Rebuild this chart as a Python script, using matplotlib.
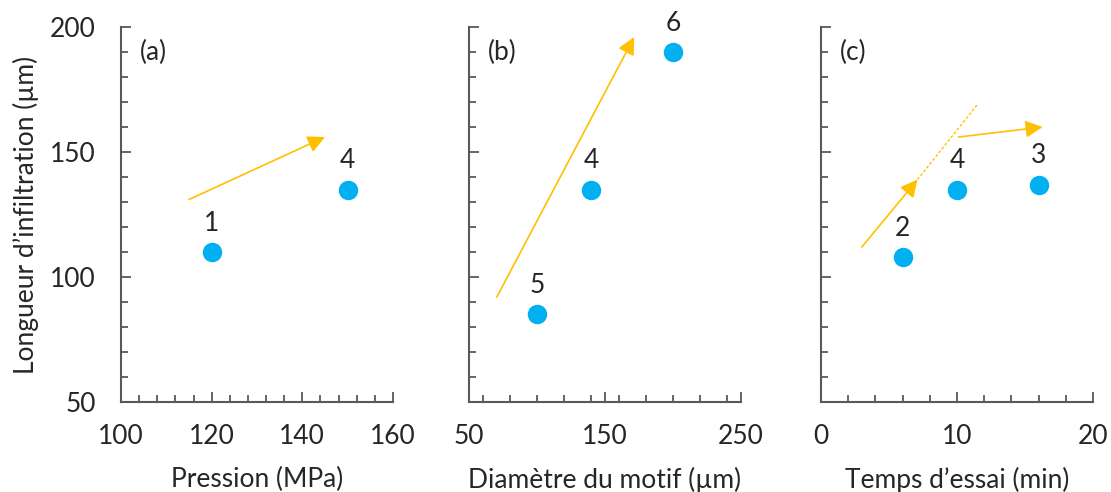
import matplotlib
matplotlib.use('Agg')
import matplotlib.pyplot as plt
from matplotlib.ticker import MultipleLocator, FixedLocator

plt.rcParams['font.family'] = ['Lato', 'DejaVu Sans']

# Données
press_x = [120, 150]
press_y = [110, 135]
press_lbl = ['1', '4']

diam_x = [100, 140, 200]
diam_y = [85, 135, 190]
diam_lbl = ['5', '4', '6']

temps_x = [6, 10, 16]
temps_y = [108, 135, 137]
temps_lbl = ['2', '4', '3']

BLEU = '#00B0F0'
ORANGE = '#FFC000'
GRIS = '#595959'
TEXTE = '#262626'
FS = 19

fig = plt.figure(figsize=(11.11, 4.92), dpi=100)
positions = [0.1089, 0.4221, 0.739]
axes = [fig.add_axes([l, 0.183, 0.2448, 0.762]) for l in positions]


def configurer(ax, xlim, xticks, xmin, xlabel, lettre):
    ax.set_xlim(*xlim)
    ax.set_ylim(50, 200)
    ax.xaxis.set_major_locator(FixedLocator(xticks))
    ax.xaxis.set_minor_locator(MultipleLocator(xmin))
    ax.yaxis.set_major_locator(MultipleLocator(50))
    ax.yaxis.set_minor_locator(MultipleLocator(10))
    ax.spines['top'].set_visible(False)
    ax.spines['right'].set_visible(False)
    for s in ['left', 'bottom']:
        ax.spines[s].set_color(GRIS)
        ax.spines[s].set_linewidth(1.5)
    ax.tick_params(which='both', direction='in', color=GRIS, width=1.3)
    ax.tick_params(which='major', length=7, labelsize=FS, labelcolor=TEXTE)
    ax.tick_params(axis='x', which='major', pad=16)
    ax.tick_params(axis='y', which='major', pad=18)
    ax.tick_params(which='minor', length=5)
    ax.set_xlabel(xlabel, fontsize=FS, color=TEXTE, labelpad=13)
    ax.text(0.07, 0.933, lettre, transform=ax.transAxes, fontsize=FS,
            color=TEXTE, va='center', ha='left')


def points(ax, xs, ys, lbls, dy):
    ax.plot(xs, ys, 'o', color=BLEU, markersize=13, clip_on=False, zorder=3)
    for x, y, t in zip(xs, ys, lbls):
        ax.text(x, y + dy, t, fontsize=FS, color=TEXTE, ha='center', va='center')


def fleche(ax, debut, fin):
    ax.annotate('', xy=fin, xytext=debut,
                arrowprops=dict(arrowstyle='-|>', color=ORANGE, lw=1.2,
                                mutation_scale=26, shrinkA=0, shrinkB=0))


ax_a, ax_b, ax_c = axes

configurer(ax_a, (100, 160), [100, 120, 140, 160], 4, 'Pression (MPa)', '(a)')
ax_a.set_ylabel('Longueur d\u2019infiltration (\u00b5m)', fontsize=FS, color=TEXTE, labelpad=8)
points(ax_a, press_x, press_y, press_lbl, 11.5)
fleche(ax_a, (115, 131), (145, 156))

configurer(ax_b, (50, 250), [50, 150, 250], 20, 'Diamètre du motif (\u00b5m)', '(b)')
ax_b.tick_params(axis='y', labelleft=False)
points(ax_b, diam_x, diam_y, diam_lbl, 11.5)
fleche(ax_b, (70.5, 92), (171.5, 196))

configurer(ax_c, (0, 20), [0, 10, 20], 2, 'Temps d\u2019essai (min)', '(c)')
ax_c.tick_params(axis='y', labelleft=False)
points(ax_c, temps_x, temps_y, temps_lbl, 11.5)
fleche(ax_c, (3.0, 112), (7.1, 139))
ax_c.plot([7.1, 11.5], [139, 169], linestyle=(0, (2, 1.5)), color=ORANGE, lw=1.0)
fleche(ax_c, (10.1, 156), (16.3, 160))

fig.savefig('out.png', dpi=100)
